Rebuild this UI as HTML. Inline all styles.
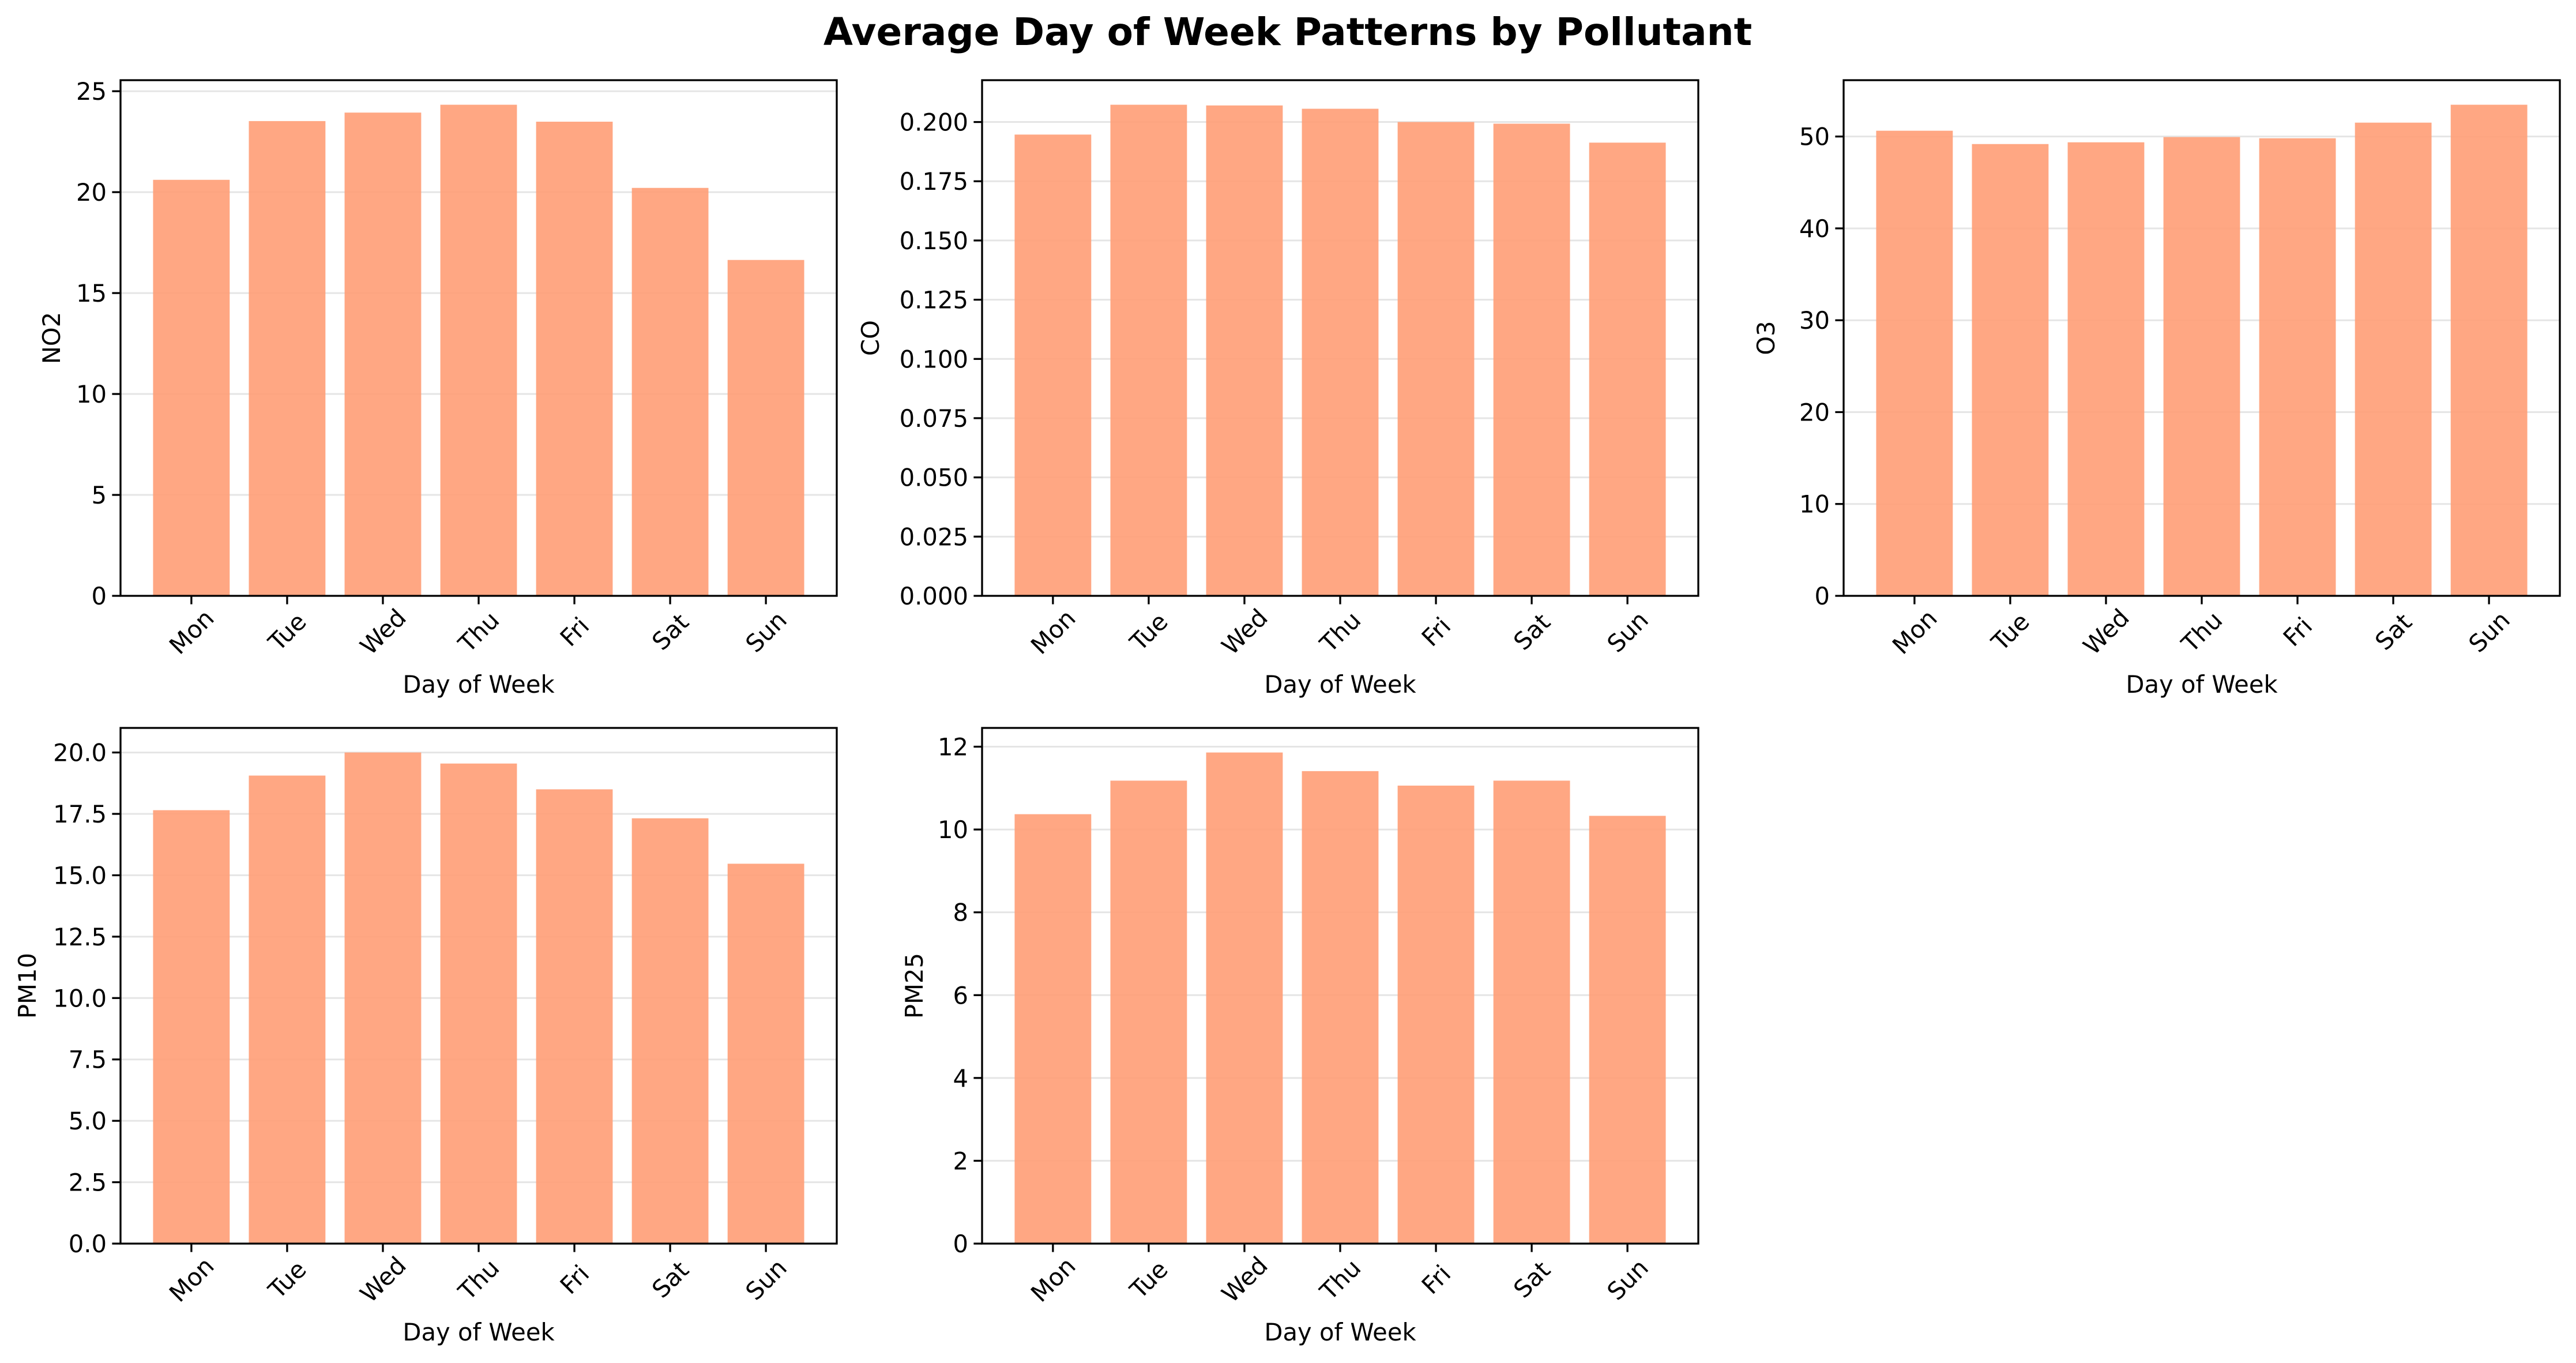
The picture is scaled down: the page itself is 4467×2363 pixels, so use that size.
<!DOCTYPE html>
<html><head><meta charset="utf-8"><style>
html,body{margin:0;padding:0;background:#fff;}
svg{display:block;font-family:"DejaVu Sans","Liberation Sans",sans-serif;}
</style></head><body>
<svg id="fig" width="4467" height="2363" viewBox="0 0 4467 2363" xmlns="http://www.w3.org/2000/svg">
<rect width="4467" height="2363" fill="#fff"/>
<text x="2233" y="78" text-anchor="middle" font-size="66" font-weight="bold">Average Day of Week Patterns by Pollutant</text>
</svg>
<script>
const days = ["Mon","Tue","Wed","Thu","Fri","Sat","Sun"];
const no2Values = [20.61, 23.52, 23.94, 24.33, 23.49, 20.21, 16.64];
const coValues = [0.1947, 0.2073, 0.2070, 0.2056, 0.2000, 0.1993, 0.1913];
const o3Values = [50.63, 49.18, 49.37, 49.94, 49.81, 51.51, 53.46];
const pm10Values = [17.65, 19.06, 20.0, 19.55, 18.50, 17.32, 15.47];
const pm25Values = [10.37, 11.18, 11.86, 11.41, 11.06, 11.18, 10.33];
const no2Ticks = [0,5,10,15,20,25];
const coTicks = [0,0.025,0.05,0.075,0.1,0.125,0.15,0.175,0.2];
const o3Ticks = [0,10,20,30,40,50];
const pm10Ticks = [0,2.5,5,7.5,10,12.5,15,17.5,20];
const pm25Ticks = [0,2,4,6,8,10,12];

const NS = "http://www.w3.org/2000/svg";
const svg = document.getElementById("fig");
function mk(tag, attrs, parent){
  const e = document.createElementNS(NS, tag);
  for (const k in attrs) e.setAttribute(k, attrs[k]);
  (parent||svg).appendChild(e);
  return e;
}
function panel(name, label, values, ticks, decimals, left, top, ylabelX){
  const W = 1242, H = 894, bottom = top + H;
  const g = mk("g", {});
  
  
  const ymax = Math.max(...values) * 1.05;
  const y = v => bottom - v / ymax * H;
  const x0 = -0.74, x1 = 6.74;
  const x = v => left + (v - x0) / (x1 - x0) * W;
  ticks.forEach(t => {
    const yy = y(t);
    const gl = mk("line", {x1: left, x2: left + W, y1: yy, y2: yy, stroke: "#000", "stroke-opacity": 0.1, "stroke-width": 3}, g);
    
    
  });
  values.forEach((v, i) => {
    const r = mk("rect", {x: x(i - 0.4), y: y(v), width: x(i + 0.4) - x(i - 0.4), height: bottom - y(v), fill: "#ffa07a", "fill-opacity": 0.93}, g);
    
    
  });
  ticks.forEach(t => {
    const yy = y(t);
    mk("line", {x1: left - 14.6, x2: left, y1: yy, y2: yy, stroke: "#000", "stroke-width": 3.3}, g);
    const tl = mk("text", {x: left - 24, y: yy + 15, "text-anchor": "end", "font-size": 41.7}, g);
    tl.textContent = t.toFixed(decimals);
    
    
  });
  days.forEach((d, i) => {
    const xx = x(i);
    mk("line", {x1: xx, x2: xx, y1: bottom, y2: bottom + 14.6, stroke: "#000", "stroke-width": 3.3}, g);
    const cx = xx, cy = bottom + 62;
    const tl = mk("text", {x: cx, y: cy + 15, "text-anchor": "middle", "font-size": 41.7, transform: "rotate(-45 " + cx + " " + cy + ")"}, g);
    tl.textContent = d;
    
    
  });
  const fr = mk("rect", {x: left, y: top, width: W, height: H, fill: "none", stroke: "#000", "stroke-width": 3.3}, g);
  
  
  const xl = mk("text", {x: left + W / 2, y: bottom + 168, "text-anchor": "middle", "font-size": 41.7}, g);
  xl.textContent = "Day of Week";
  
  
  const cy = top + H / 2;
  const yl = mk("text", {x: ylabelX, y: cy, "text-anchor": "middle", "font-size": 41.7, transform: "rotate(-90 " + ylabelX + " " + cy + ")"}, g);
  yl.textContent = label;
  
  
}
panel("no2", "NO2", no2Values, no2Ticks, 0, 209, 139, 104);
panel("co", "CO", coValues, coTicks, 3, 1703, 139, 1524);
panel("o3", "O3", o3Values, o3Ticks, 0, 3197, 139, 3077);
panel("pm10", "PM10", pm10Values, pm10Ticks, 1, 209, 1262, 62);
panel("pm25", "PM25", pm25Values, pm25Ticks, 0, 1703, 1262, 1600);
</script>
</body></html>
